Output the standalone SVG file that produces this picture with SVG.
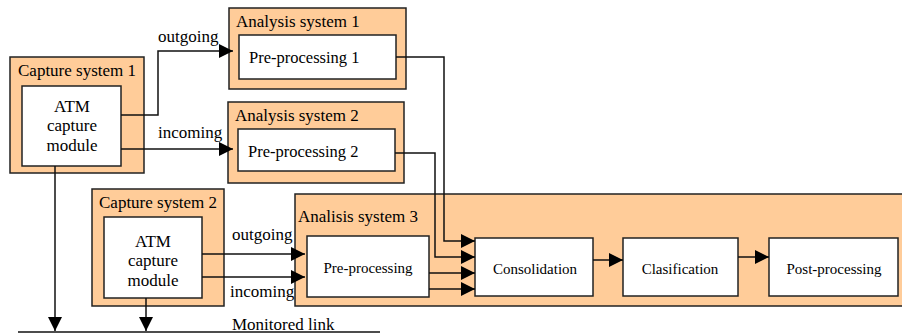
<svg xmlns="http://www.w3.org/2000/svg" width="902" height="334" viewBox="0 0 902 334">
<defs>
<style>
.sys{fill:#FFCC99;stroke:#222;stroke-width:1.5}
.box{fill:#fff;stroke:#222;stroke-width:1.5}
text{font-family:'Liberation Serif','Times New Roman',serif;fill:#000}
.title{font-size:17px}
.lbl{font-size:17px}
.mid{font-size:16.5px}
.small{font-size:15px}
.c{fill:none;stroke:#111;stroke-width:1.5}
</style>
<marker id="ah" viewBox="0 0 14 14" refX="14" refY="7" markerWidth="14" markerHeight="14" markerUnits="userSpaceOnUse" orient="auto">
<path d="M0,0 L14,7 L0,14 Z" fill="#000"/>
</marker>
</defs>
<rect width="902" height="334" fill="#fff"/>

<g id="capture1">
<rect class="sys" x="10" y="57" width="134" height="116"/>
<text class="title" x="18" y="76">Capture system 1</text>
<rect class="box" x="22" y="86" width="99" height="80"/>
<text class="lbl" x="72" y="112" text-anchor="middle">ATM</text>
<text class="lbl" x="72" y="131" text-anchor="middle">capture</text>
<text class="lbl" x="72" y="151" text-anchor="middle">module</text>
</g>

<g id="analysis1">
<rect class="sys" x="229" y="8" width="177" height="81"/>
<text class="title" x="236" y="27">Analysis system 1</text>
<rect class="box" x="239" y="35" width="157" height="44"/>
<text class="mid" x="249" y="63">Pre-processing 1</text>
</g>

<g id="analysis2">
<rect class="sys" x="228" y="102" width="176" height="81"/>
<text class="title" x="235" y="121">Analysis system 2</text>
<rect class="box" x="238" y="129" width="157" height="42"/>
<text class="mid" x="248" y="157">Pre-processing 2</text>
</g>

<g id="capture2">
<rect class="sys" x="92" y="189" width="132" height="117"/>
<text class="title" x="99" y="208">Capture system 2</text>
<rect class="box" x="104" y="217" width="98" height="81"/>
<text class="lbl" x="153" y="247" text-anchor="middle">ATM</text>
<text class="lbl" x="153" y="266" text-anchor="middle">capture</text>
<text class="lbl" x="153" y="286" text-anchor="middle">module</text>
</g>

<g id="analysis3">
<rect class="sys" x="295" y="194" width="620" height="112"/>
<text class="title" x="298" y="222">Analisis system 3</text>
</g>

<g id="preprocessing3">
<rect class="box" x="307" y="236" width="122" height="61"/>
<text class="small" x="368" y="273" text-anchor="middle">Pre-processing</text>
</g>

<g id="consolidation">
<rect class="box" x="475" y="238" width="118" height="58"/>
<text class="small" x="535" y="274" text-anchor="middle">Consolidation</text>
</g>

<g id="clasification">
<rect class="box" x="623" y="238" width="115" height="58"/>
<text class="small" x="680" y="274" text-anchor="middle">Clasification</text>
</g>

<g id="postprocessing">
<rect class="box" x="769" y="238" width="129" height="58"/>
<text class="small" x="834" y="274" text-anchor="middle">Post-processing</text>
</g>

<g id="monitored-link">
<line x1="18" y1="332" x2="380" y2="332" stroke="#111" stroke-width="1.5"/>
<text class="lbl" x="232" y="330">Monitored link</text>
</g>

<g id="connectors">
<path class="c" d="M121,115 H158 V51 H233" marker-end="url(#ah)"/>
<text class="lbl" x="158" y="42">outgoing</text>
<path class="c" d="M121,149 H233" marker-end="url(#ah)"/>
<text class="lbl" x="158" y="138">incoming</text>
<path class="c" d="M55,166 V331" marker-end="url(#ah)"/>
<path class="c" d="M146,298 V331" marker-end="url(#ah)"/>
<path class="c" d="M202,254 H305" marker-end="url(#ah)"/>
<text class="lbl" x="232" y="240">outgoing</text>
<path class="c" d="M202,277 H305" marker-end="url(#ah)"/>
<text class="lbl" x="230" y="297">incoming</text>
<path class="c" d="M396,57 H444 V241 H475" marker-end="url(#ah)"/>
<path class="c" d="M395,153 H435 V257 H475" marker-end="url(#ah)"/>
<path class="c" d="M429,273 H475" marker-end="url(#ah)"/>
<path class="c" d="M429,289 H475" marker-end="url(#ah)"/>
<path class="c" d="M593,260 H623" marker-end="url(#ah)"/>
<path class="c" d="M738,257 H769" marker-end="url(#ah)"/>
</g>
</svg>
